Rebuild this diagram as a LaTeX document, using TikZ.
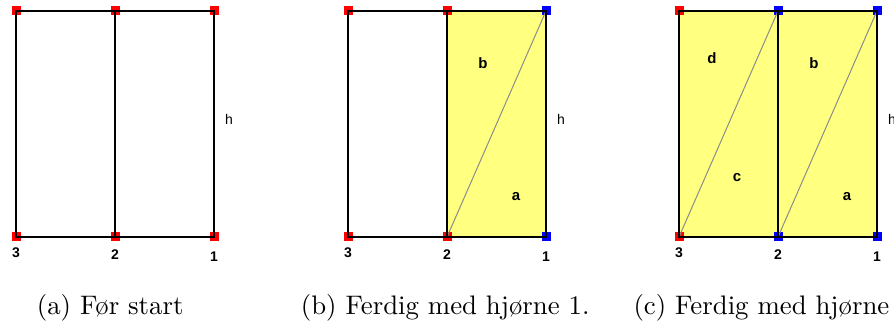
\documentclass[tikz,border=0pt]{standalone}
\usepackage{fontspec}
\newfontfamily\labfont{Liberation Sans}
\usetikzlibrary{backgrounds}
\definecolor{facey}{RGB}{255,255,128}
\definecolor{diagc}{RGB}{140,140,140}
\newcommand{\capbox}[1]{\scalebox{2.68}{#1}}
\begin{document}
\begin{tikzpicture}[x=1pt,y=-1pt,
  corner/.style={minimum size=9pt,inner sep=0pt,outer sep=0pt,draw=none},
  redc/.style={corner,fill=red},
  bluec/.style={corner,fill=blue},
  edge/.style={line width=1.5pt,black},
  diag/.style={line width=1pt,diagc},
  face/.style={fill=facey},
  num/.style={font=\labfont\bfseries\fontsize{14}{16}\selectfont,inner sep=0pt},
  tri/.style={font=\labfont\bfseries\fontsize{15}{17}\selectfont,inner sep=0pt},
  hlab/.style={font=\labfont\fontsize{14}{16}\selectfont,inner sep=0pt},
  captext/.style={font=\normalsize,anchor=base west,inner sep=0pt}]
\useasboundingbox (0,0) rectangle (894,328);
% ---------- panel a ----------
\node[redc] (a3t) at (16,11) {};
\node[redc] (a2t) at (115,11) {};
\node[redc] (a1t) at (214,11) {};
\node[redc] (a3b) at (16,237) {};
\node[redc] (a2b) at (115,237) {};
\node[redc] (a1b) at (214,237) {};
\draw[edge] (a3t.center) -- (a1t.center) -- (a1b.center) -- (a3b.center) -- cycle;
\draw[edge] (a2t.center) -- (a2b.center);
\node[num] (a3n) at (16,253) {3};
\node[num] (a2n) at (115,255) {2};
\node[num] (a1n) at (214,257) {1};
\node[hlab] (ah) at (229,119) {h};
\node[captext] (acap) at (36.7,315) {\capbox{(a) Før start}};
% ---------- panel b ----------
\node[redc] (b3t) at (348,11) {};
\node[redc] (b2t) at (447,11) {};
\node[bluec] (b1t) at (546,11) {};
\node[redc] (b3b) at (348,237) {};
\node[redc] (b2b) at (447,237) {};
\node[bluec] (b1b) at (546,237) {};
\begin{pgfonlayer}{background}
\fill[face] (b2t.center) -- (b1t.center) -- (b1b.center) -- (b2b.center) -- cycle;
\end{pgfonlayer}
\draw[diag] (b2b.center) -- (b1t.center);
\draw[edge] (b3t.center) -- (b1t.center) -- (b1b.center) -- (b3b.center) -- cycle;
\draw[edge] (b2t.center) -- (b2b.center);
\node[tri] (bb) at (483,63) {b};
\node[tri] (ba) at (516,197) {a};
\node[num] (b3n) at (348,253) {3};
\node[num] (b2n) at (447,255) {2};
\node[num] (b1n) at (546,257) {1};
\node[hlab] (bh) at (561,119) {h};
\node[captext] (bcap) at (300.7,315) {\capbox{(b) Ferdig med hjørne 1.}};
% ---------- panel c ----------
\node[redc] (c3t) at (679,11) {};
\node[bluec] (c2t) at (778,11) {};
\node[bluec] (c1t) at (877,11) {};
\node[redc] (c3b) at (679,237) {};
\node[bluec] (c2b) at (778,237) {};
\node[bluec] (c1b) at (877,237) {};
\begin{pgfonlayer}{background}
\fill[face] (c3t.center) -- (c1t.center) -- (c1b.center) -- (c3b.center) -- cycle;
\end{pgfonlayer}
\draw[diag] (c3b.center) -- (c2t.center);
\draw[diag] (c2b.center) -- (c1t.center);
\draw[edge] (c3t.center) -- (c1t.center) -- (c1b.center) -- (c3b.center) -- cycle;
\draw[edge] (c2t.center) -- (c2b.center);
\node[tri] (cd) at (712,58) {d};
\node[tri] (cb) at (814,63) {b};
\node[tri] (cc) at (737,178) {c};
\node[tri] (ca) at (847,197) {a};
\node[num] (c3n) at (679,253) {3};
\node[num] (c2n) at (778,255) {2};
\node[num] (c1n) at (877,257) {1};
\node[hlab] (ch) at (892,119) {h};
\node[captext] (ccap) at (633.3,315) {\capbox{(c) Ferdig med hjørne 2.}};
\end{tikzpicture}
\end{document}
